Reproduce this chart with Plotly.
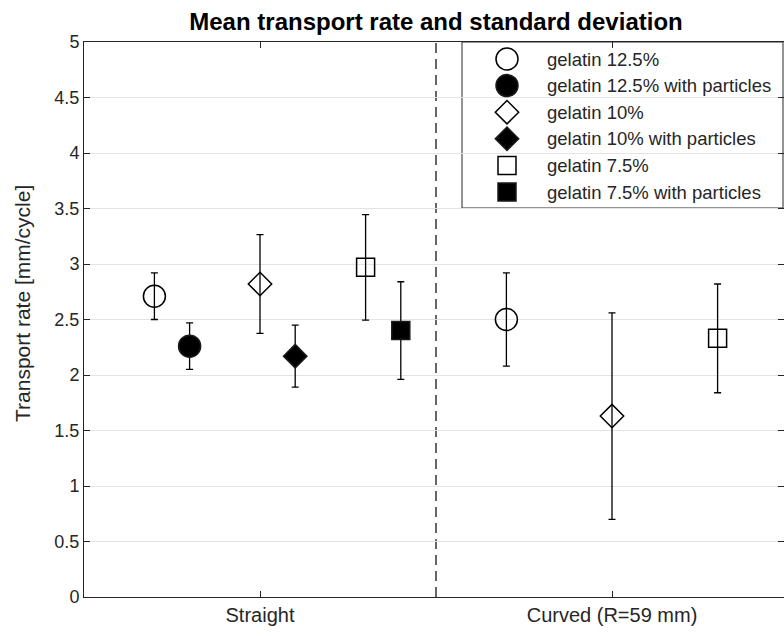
import plotly.graph_objects as go

# Channel geometries (x categories)
categories = ["Straight", "Curved (R=59 mm)"]

# Series labels
series_names = [
    "gelatin 12.5%",
    "gelatin 12.5% with particles",
    "gelatin 10%",
    "gelatin 10% with particles",
    "gelatin 7.5%",
    "gelatin 7.5% with particles",
]

# Mean transport rate [mm/cycle] per category (None = not measured)
mean_g125 = [2.71, 2.50]
mean_g125p = [2.26, None]
mean_g10 = [2.82, 1.63]
mean_g10p = [2.17, None]
mean_g75 = [2.97, 2.33]
mean_g75p = [2.40, None]

# Standard deviation [mm/cycle]
std_g125 = [0.21, 0.42]
std_g125p = [0.21, None]
std_g10 = [0.445, 0.93]
std_g10p = [0.28, None]
std_g75 = [0.475, 0.49]
std_g75p = [0.44, None]

means = [mean_g125, mean_g125p, mean_g10, mean_g10p, mean_g75, mean_g75p]
stds = [std_g125, std_g125p, std_g10, std_g10p, std_g75, std_g75p]

# Styling per series
offsets = [-0.3, -0.2, 0.0, 0.1, 0.3, 0.4]
symbols = ["circle-open", "circle", "diamond-open", "diamond", "square-open", "square"]
sizes = [22, 22, 18, 18, 18, 18]

FONT = "Liberation Sans, Arial, Helvetica, sans-serif"
TXT = "#262626"

W, H = 784, 637
L, R, T, B = 84, 0, 42, 40
X_PER_PX = 1.0 / 352.0
x_lo = 0.5
x_hi = x_lo + (W - L - R) * X_PER_PX
Y_PER_PX = 5.0 / (H - T - B)

fig = go.Figure()

for name, m, s, off, sym, sz in zip(series_names, means, stds, offsets, symbols, sizes):
    xs, ys, es = [], [], []
    for i, (mv, sv) in enumerate(zip(m, s)):
        if mv is None:
            continue
        xs.append(i + 1 + off)
        ys.append(mv)
        es.append(sv)
    fig.add_trace(go.Scatter(
        x=xs, y=ys, mode="markers", name=name, showlegend=False,
        marker=dict(symbol=sym, size=sz, color="#000000",
                    line=dict(color="#1a1a1a", width=1.5)),
        error_y=dict(type="data", array=es, visible=True,
                     color="#000000", thickness=1.3, width=3.5),
    ))


def px_to_x(px):
    return x_lo + (px - L) * X_PER_PX


def px_to_y(py):
    return (H - B - py) * Y_PER_PX


# Legend box (drawn by hand so the symbols keep their full size)
leg_x0, leg_x1, leg_y0, leg_y1 = 462, 783, 42, 208
row_y = [59 + 26.6 * i for i in range(len(series_names))]
mark_x = 507
text_x = 545

fig.add_shape(type="rect", xref="x", yref="y",
              x0=px_to_x(leg_x0), x1=px_to_x(leg_x1),
              y0=px_to_y(leg_y1), y1=5,
              line=dict(color="#262626", width=1), fillcolor="white",
              layer="below")

for name, sym, sz, yy in zip(series_names, symbols, sizes, row_y):
    fig.add_trace(go.Scatter(
        x=[mark_x], y=[yy], xaxis="x2", yaxis="y2", mode="markers",
        showlegend=False, hoverinfo="skip",
        marker=dict(symbol=sym, size=sz, color="#000000",
                    line=dict(color="#1a1a1a", width=1.5)),
    ))
    fig.add_annotation(x=text_x, y=yy, xref="x2", yref="y2", text=name,
                       showarrow=False, xanchor="left", yanchor="middle",
                       font=dict(family=FONT, size=18.5, color=TXT))

# Separator between the two channel geometries
fig.add_shape(type="line", xref="x", yref="y", x0=1.5, x1=1.5, y0=0, y1=5,
              line=dict(color="#666666", width=2, dash="10px,6px"), layer="below")

fig.update_layout(
    width=W, height=H,
    margin=dict(l=L, r=R, t=T, b=B),
    paper_bgcolor="white", plot_bgcolor="white",
    font=dict(family=FONT, color=TXT),
    title=dict(text="<b>Mean transport rate and standard deviation</b>",
               x=436 / W, xanchor="center", y=1 - 22 / H, yanchor="middle",
               font=dict(family=FONT, size=24, color="#000000")),
    xaxis=dict(range=[x_lo, x_hi], tickvals=[1, 2], ticktext=categories,
               ticks="inside", ticklen=6, tickcolor=TXT, showline=True,
               linecolor=TXT, linewidth=1, mirror="ticks", showgrid=False,
               zeroline=False, tickfont=dict(size=20, color=TXT)),
    yaxis=dict(range=[0, 5], dtick=0.5, ticks="inside", ticklen=6, tickcolor=TXT,
               showline=True, linecolor=TXT, linewidth=1, mirror="ticks",
               showgrid=True, gridcolor="#e3e3e3", gridwidth=1, zeroline=False,
               tickfont=dict(size=18, color=TXT)),
    xaxis2=dict(overlaying="x", range=[L, W - R], visible=False, fixedrange=True),
    yaxis2=dict(overlaying="y", range=[H - B, T], visible=False, fixedrange=True),
    showlegend=False,
)

fig.add_annotation(text="Transport rate [mm/cycle]", xref="paper", yref="paper",
                   x=(22 - L) / (W - L - R), y=1 - (304 - T) / (H - T - B),
                   textangle=-90, showarrow=False,
                   xanchor="center", yanchor="middle",
                   font=dict(family=FONT, size=21, color=TXT))

fig.write_html("out.html")
